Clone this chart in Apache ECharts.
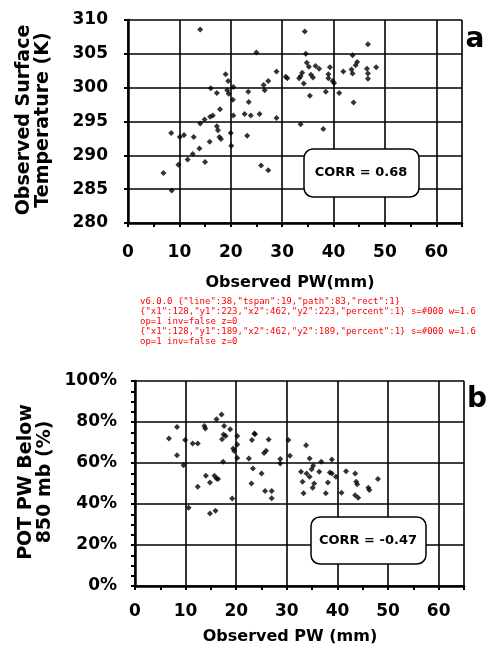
<!DOCTYPE html>
<html><head><meta charset="utf-8">
<script src="https://cdn.jsdelivr.net/npm/echarts@6/dist/echarts.min.js"></script>
<style>
html,body{margin:0;padding:0;background:#fff}
#wrap{position:relative;width:491px;height:655px}
#ca{position:absolute;left:0;top:0;width:491px;height:330px}
#cb{position:absolute;left:0;top:330px;width:491px;height:325px}
#d{position:absolute;left:140px;top:296px;font:9px monospace;white-space:pre-wrap;width:350px;color:red;z-index:5}
</style>
</head><body><div id="wrap"><div id="ca"></div><div id="cb"></div><div id="d"></div></div>
<script>
const log = s => { document.getElementById('d').textContent += s + '\n'; };
window.onerror = (m, s, l, c) => { log('ERR ' + m + ' @' + l + ':' + c); };
// Panel a: observed PW (mm) vs observed surface temperature (K)
const pwA = [14.05,25.0,19.0,19.5,16.1,17.3,19.3,19.6,20.5,23.4,23.5,20.4,17.9,16.5,16.0,14.9,14.05,20.5,22.7,23.9,25.6,17.3,17.5,8.4,10.1,10.9,12.8,17.8,18.1,20.0,23.2,15.9,20.1,13.9,12.6,11.6,9.8,15.0,6.9,8.5,
  34.4,46.7,34.6,43.7,44.6,44.3,34.8,35.2,36.5,37.2,39.3,41.9,43.5,43.7,46.5,48.3,46.7,46.7,28.9,33.9,33.3,33.6,35.6,36.0,39.0,39.0,39.8,40.1,30.7,31.0,27.3,26.4,26.6,34.2,35.4,38.5,41.1,43.9,28.9,33.6,38.0,25.9,27.3];
const tempA = [308.6,305.2,302.0,301.0,299.9,299.2,299.6,299.1,300.1,299.4,297.9,298.2,296.8,295.9,295.7,295.3,294.7,295.9,296.1,295.9,296.1,294.3,293.7,293.3,292.7,293.0,292.7,292.7,292.4,293.3,292.9,292.0,291.4,291.0,290.2,289.4,288.6,289.0,287.4,284.8,
  308.3,306.4,305.0,304.8,303.8,303.3,303.7,303.1,303.2,302.8,303.0,302.4,302.7,302.1,302.8,303.0,302.1,301.3,302.4,302.2,301.4,301.7,301.9,301.5,302.0,301.4,301.0,300.7,301.6,301.4,301.0,300.4,299.6,300.6,298.8,299.4,299.2,297.8,295.5,294.6,293.9,288.5,287.8];
// Panel b: observed PW (mm) vs POT PW below 850 mb (%)
const pwB = [17.1,16.1,8.3,13.7,13.9,17.6,18.8,17.5,17.9,17.2,20.2,23.7,6.7,9.9,11.4,12.4,20.2,19.4,19.6,20.2,22.5,23.1,8.3,17.4,9.6,23.3,14.0,15.7,16.1,16.4,14.8,12.4,23.0,19.2,10.6,14.8,15.9,
  23.6,26.4,30.3,33.8,25.9,25.5,30.6,28.7,28.7,34.5,36.8,38.9,25.0,32.8,33.9,34.9,35.2,34.5,36.4,38.5,38.9,39.7,41.7,43.5,43.7,43.9,48.0,33.1,35.4,35.1,38.1,33.3,37.7,40.8,43.5,44.1,46.1,46.3,25.7,27.0,27.0];
const potB = [83.6,81.4,77.6,78.1,76.8,78.1,76.5,73.9,73.2,71.6,73.2,74.0,72.0,71.2,69.5,69.5,69.0,67.1,65.8,62.5,62.2,71.2,63.8,60.6,58.9,57.3,53.8,53.8,52.5,52.2,50.5,48.4,50.0,42.7,38.2,35.4,36.7,
  74.4,71.5,71.2,68.7,66.0,64.9,63.5,61.9,59.8,62.2,60.6,61.7,54.9,55.7,54.9,57.0,58.6,53.3,55.7,55.4,54.9,53.3,56.0,54.9,50.9,49.6,52.2,50.9,50.0,47.9,50.5,45.2,45.2,45.5,44.3,43.1,47.9,46.8,46.3,46.3,42.8];
const corrA = "CORR = 0.68";
const corrB = "CORR = -0.47";
const xTitleA = "Observed PW(mm)";
const xTitleB = "Observed PW (mm)";
const yTitleA = ["Observed Surface", "Temperature (K)"];
const yTitleB = ["POT PW Below", "850 mb (%)"];

const FONT = "DejaVu Sans";
const pairs = (xs, ys) => xs.map((x, i) => [x, ys[i]]);
const lbl = () => ({fontFamily: FONT, fontWeight: 'bold', fontSize: 17, color: '#000'});

function panel(el, cfg) {
  const option = {
    animation:false,
    grid:[{left:cfg.left, right:cfg.right, top:cfg.top, height:cfg.height}],
    xAxis:[{type:'value', min:0, max:65, interval:10,
      axisLine:{lineStyle:{color:'#000', width:2.5}},
      axisTick:{show:true, length:4, lineStyle:{color:'#000', width:2}},
      minorTick:{show:true, splitNumber:2, length:4, lineStyle:{color:'#000', width:2}},
      axisLabel:Object.assign({margin:cfg.xMargin, formatter:function (v) { return v % 10 === 0 ? String(v) : ''; }}, lbl()),
      splitLine:{show:true, lineStyle:{color:'#000', width:1.6}}}],
    yAxis:[{type:'value', min:cfg.ymin, max:cfg.ymax, interval:cfg.yInterval,
      axisLine:{show:true, lineStyle:{color:'#000', width:2.5}},
      axisTick:{show:true, length:4, lineStyle:{color:'#000', width:2}},
      minorTick:{show:true, splitNumber:cfg.yMinor, length:4, lineStyle:{color:'#000', width:2}},
      axisLabel:Object.assign({margin:cfg.yMargin, formatter:cfg.yFmt}, lbl()),
      splitLine:{show:true, lineStyle:{color:'#000', width:1.6}}}],
    series:[{type:'scatter', symbol:'diamond', symbolSize:6, itemStyle:{color:'#000'}, data:cfg.data}],
    graphic:cfg.graphic
  };
  const chart = echarts.init(el, null, {renderer:'canvas'});
  chart.setOption(option);
  return chart;
}
const T = (x, y, text, size, extra) => Object.assign({type:'text', x:x, y:y, z:30,
  style:{text:text, fontFamily:FONT, fontWeight:'bold', fontSize:size, fill:'#000', align:'center', verticalAlign:'middle'}}, extra || {});

const chartA = panel(document.getElementById('ca'), {
  left:128, right:29, top:20, height:203, xMargin:21, yMargin:20,
  ymin:280, ymax:310, yInterval:5, yMinor:1, yFmt:'{value}', data:pairs(pwA, tempA),
  graphic:[
    T(290, 283, xTitleA, 16),
    Object.assign(T(34, 120, yTitleA.join('\n'), 19, {rotation:Math.PI/2}), {}),
    {type:'rect', z:20, shape:{x:304, y:149, width:115, height:48, r:9}, style:{fill:'#fff', stroke:'#000', lineWidth:1.5}},
    T(361, 173, corrA, 13),
    T(475, 40, 'a', 28)
  ]
});
const chartB = panel(document.getElementById('cb'), {
  left:135, right:27, top:51, height:205, xMargin:17, yMargin:18,
  ymin:0, ymax:100, yInterval:20, yMinor:4, yFmt:'{value}%', data:pairs(pwB, potB),
  graphic:[
    T(290, 307, xTitleB, 16),
    T(36, 152, yTitleB.join('\n'), 19, {rotation:Math.PI/2}),
    {type:'rect', z:20, shape:{x:311, y:187, width:115, height:47, r:9}, style:{fill:'#fff', stroke:'#000', lineWidth:1.5}},
    T(368, 211, corrB, 13),
    T(477, 70, 'b', 28)
  ]
});
try {
  const list = chartA.getZr().storage.getDisplayList(true);
  const cnt = {};
  list.forEach(e => { cnt[e.type] = (cnt[e.type] || 0) + 1; });
  log('v' + echarts.version + ' ' + JSON.stringify(cnt));
  const ln = list.filter(e => e.type === 'line').slice(0, 2);
  ln.forEach(e => log(JSON.stringify(e.shape) + ' s=' + e.style.stroke + ' w=' + e.style.lineWidth + ' op=' + e.style.opacity + ' inv=' + e.invisible + ' z=' + e.z));
} catch (e) { log('CATCH ' + e.message); }
</script>
</body></html>
